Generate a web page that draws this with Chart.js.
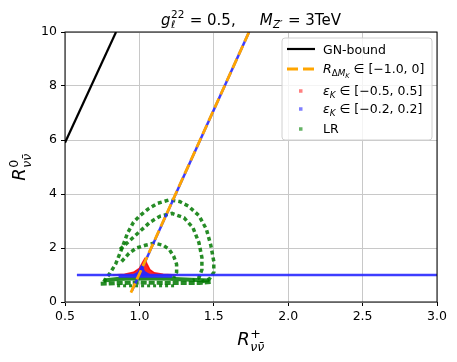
<!DOCTYPE html>
<html>
<head>
<meta charset="utf-8">
<script src="https://cdn.jsdelivr.net/npm/chart.js@4"></script>
<style>
  body { margin: 0; background: #fff; }
  #wrap { width: 457px; height: 362px; }
</style>
</head>
<body>
<div id="wrap"><canvas id="chart" width="457" height="362"></canvas></div>
<script>
// axis ticks
const xTicks = [0.5, 1.0, 1.5, 2.0, 2.5, 3.0];
const yTicks = [0, 2, 4, 6, 8, 10];

// lines
const gnBound = [[0.5, 5.9], [0.843, 10]];
const deltaMK = [[0.943, 0.35], [1.737, 10]];

// eps_K in [-0.2, 0.2] (blue)
const epsNarrowFlat = [[0.58, 1.0], [3.0, 1.0]];
const epsNarrowDiag = [[0.95, 0.42], [1.737, 10]];
const epsNarrowBlob = [[0.96, 1.0], [0.99, 1.1], [1.015, 1.35], [1.035, 1.12], [1.07, 1.0]];
const epsNarrowBand = [[0.86, 0.95], [1.22, 0.95]];

// eps_K in [-0.5, 0.5] (red)
const epsWide = [[0.82, 1.0], [0.9, 1.03], [0.96, 1.1], [1.0, 1.25], [1.02, 1.45], [1.035, 1.6],
                 [1.05, 1.42], [1.07, 1.2], [1.1, 1.08], [1.16, 1.03], [1.25, 1.0]];

// LR (green)
const lrOuter = [[0.76, 0.75], [0.8, 1.05], [0.84, 1.4], [0.88, 1.95], [0.92, 2.55], [0.96, 2.95], [1.0, 3.18],
                 [1.06, 3.45], [1.12, 3.65], [1.2, 3.78], [1.27, 3.72], [1.33, 3.55], [1.4, 3.2], [1.45, 2.7],
                 [1.48, 2.1], [1.5, 1.5], [1.5, 1.1], [1.47, 0.85], [1.42, 0.75]];
const lrMiddle = [[0.87, 1.95], [0.93, 2.25], [1.0, 2.6], [1.07, 2.95], [1.14, 3.18], [1.22, 3.28], [1.3, 3.12],
                  [1.36, 2.75], [1.4, 2.2], [1.42, 1.65], [1.42, 1.2], [1.4, 0.9], [1.36, 0.8]];
const lrInner = [[0.88, 1.5], [0.93, 1.8], [0.98, 2.0], [1.04, 2.1], [1.1, 2.18], [1.16, 2.1], [1.2, 1.95],
                 [1.23, 1.7], [1.25, 1.4], [1.25, 1.1], [1.23, 0.9]];
const lrBandUpper = [[0.76, 0.8], [0.85, 0.85], [1.0, 0.88], [1.2, 0.86], [1.35, 0.82], [1.47, 0.8]];
const lrBandLower = [[0.74, 0.68], [0.85, 0.7], [1.0, 0.72], [1.2, 0.7], [1.4, 0.7], [1.48, 0.74]];
const lrBandDots = [[0.85, 0.6], [1.25, 0.6]];

const FONT = "'DejaVu Sans'";
const pts = arr => arr.map(p => ({ x: p[0], y: p[1] }));

function line(data, color, width, order, extra) {
    return Object.assign({
        data: pts(data),
        showLine: true,
        pointRadius: 0,
        borderColor: color,
        backgroundColor: color,
        borderWidth: width,
        fill: false,
        order: order
    }, extra || {});
}

const green = 'rgba(0,120,0,0.85)';
const red = 'rgba(255,0,0,0.85)';
const blue = 'rgba(40,40,255,0.9)';

const datasets = [
    line(lrOuter, green, 3.5, 10, { borderDash: [4, 3] }),
    line(lrMiddle, green, 3.5, 10, { borderDash: [4, 3] }),
    line(lrInner, green, 3.5, 10, { borderDash: [4, 3] }),
    line(lrBandUpper, green, 4, 10),
    line(lrBandLower, green, 4, 10, { borderDash: [6, 2] }),
    line(lrBandDots, green, 3, 10, { borderDash: [3, 3] }),
    line(epsWide, red, 1.5, 8, { fill: { value: 1 } }),
    line(epsNarrowFlat, blue, 2.5, 6),
    line(epsNarrowDiag, blue, 2.5, 6),
    line(epsNarrowBand, blue, 3, 6),
    line(epsNarrowBlob, blue, 1.5, 6, { fill: { value: 1 } }),
    line(deltaMK, '#ffa500', 2.8, 4, { borderDash: [10, 4.5] }),
    line(gnBound, '#000000', 2.2, 2)
];

// text with sub/superscripts
function drawRich(ctx, parts, x, y, align, size) {
    const font = (p) => (p.it ? 'oblique ' : '') + (p.s || size) + 'px ' + FONT;
    const widths = parts.map(p => {
        if (p.gap) return p.gap;
        if (p.sup !== undefined || p.sub !== undefined) {
            let w = 0;
            ctx.font = font({ it: p.supIt, s: p.ss });
            if (p.sup) w = Math.max(w, ctx.measureText(p.sup).width);
            ctx.font = font({ it: p.subIt, s: p.ss });
            if (p.sub) w = Math.max(w, ctx.measureText(p.sub).width);
            return w + 1;
        }
        ctx.font = font(p);
        return ctx.measureText(p.t).width;
    });
    const total = widths.reduce((a, b) => a + b, 0);
    let cx = align === 'center' ? x - total / 2 : x;
    ctx.textAlign = 'left';
    ctx.textBaseline = 'alphabetic';
    parts.forEach((p, i) => {
        if (p.gap) { cx += p.gap; return; }
        if (p.sup !== undefined || p.sub !== undefined) {
            if (p.sup) { ctx.font = font({ it: p.supIt, s: p.ss }); ctx.fillText(p.sup, cx + 0.5, y + p.supDy); }
            if (p.sub) { ctx.font = font({ it: p.subIt, s: p.ss }); ctx.fillText(p.sub, cx + 0.5, y + p.subDy); }
        } else {
            ctx.font = font(p);
            ctx.fillText(p.t, cx, y + (p.dy || 0));
        }
        cx += widths[i];
    });
}

const decorPlugin = {
    id: 'decor',
    afterDraw(chart) {
        const ctx = chart.ctx;
        const a = chart.chartArea;
        ctx.save();
        ctx.fillStyle = '#000';

        // spines
        ctx.strokeStyle = '#000';
        ctx.lineWidth = 1;
        ctx.strokeRect(a.left, a.top, a.right - a.left, a.bottom - a.top);

        // title
        drawRich(ctx, [
            { t: 'g', it: true },
            { sup: '22', sub: 'ℓ', ss: 10.5, supIt: false, subIt: true, supDy: -7, subDy: 3 },
            { t: ' = 0.5,' },
            { gap: 24 },
            { t: 'M', it: true },
            { sup: '', sub: 'Z′', ss: 10.5, subIt: true, subDy: 3 },
            { t: ' = 3TeV' }
        ], (a.left + a.right) / 2, 25, 'center', 15);

        // x label
        drawRich(ctx, [
            { t: 'R', it: true },
            { sup: '+', sub: 'νν̄', ss: 12.6, supIt: false, subIt: true, supDy: -7.5, subDy: 6 }
        ], (a.left + a.right) / 2, 345, 'center', 18);

        // y label
        ctx.save();
        ctx.translate(25, (a.top + a.bottom) / 2);
        ctx.rotate(-Math.PI / 2);
        drawRich(ctx, [
            { t: 'R', it: true },
            { sup: '0', sub: 'νν̄', ss: 12.6, supIt: false, subIt: true, supDy: -7.5, subDy: 6 }
        ], 0, 0, 'center', 18);
        ctx.restore();

        // legend
        const lx = 282, ly = 38, lw = 150, lh = 102;
        ctx.beginPath();
        ctx.roundRect(lx, ly, lw, lh, 3);
        ctx.fillStyle = 'rgba(255,255,255,0.8)';
        ctx.fill();
        ctx.strokeStyle = '#d0d0d0';
        ctx.lineWidth = 1;
        ctx.stroke();

        const hx0 = 287, hx1 = 315, tx = 323;
        ctx.lineWidth = 2.2;
        ctx.strokeStyle = '#000';
        ctx.beginPath(); ctx.moveTo(hx0, 49); ctx.lineTo(hx1, 49); ctx.stroke();
        ctx.lineWidth = 2.8;
        ctx.strokeStyle = '#ffa500';
        ctx.setLineDash([11, 5]);
        ctx.beginPath(); ctx.moveTo(hx0, 69); ctx.lineTo(hx1, 69); ctx.stroke();
        ctx.setLineDash([]);
        const markers = [['rgba(255,0,0,0.5)', 91], ['rgba(0,0,255,0.5)', 109], ['rgba(0,128,0,0.6)', 129]];
        markers.forEach(m => { ctx.fillStyle = m[0]; ctx.fillRect(299, m[1] - 1.75, 3.5, 3.5); });

        ctx.fillStyle = '#000';
        drawRich(ctx, [{ t: 'GN-bound' }], tx, 54, 'left', 12.5);
        drawRich(ctx, [
            { t: 'R', it: true },
            { t: 'Δ', s: 8.8, dy: 3 },
            { t: 'M', it: true, s: 8.8, dy: 3 },
            { t: 'K', it: true, s: 6.5, dy: 5 },
            { t: ' ∈ [−1.0, 0]' }
        ], tx, 73.3, 'left', 12.5);
        drawRich(ctx, [
            { t: 'ε', it: true },
            { t: 'K', it: true, s: 8.8, dy: 3 },
            { t: ' ∈ [−0.5, 0.5]' }
        ], tx, 95, 'left', 12.5);
        drawRich(ctx, [
            { t: 'ε', it: true },
            { t: 'K', it: true, s: 8.8, dy: 3 },
            { t: ' ∈ [−0.2, 0.2]' }
        ], tx, 113.3, 'left', 12.5);
        drawRich(ctx, [{ t: 'LR' }], tx, 133.3, 'left', 12.5);
        ctx.restore();
    }
};

const axisCommon = {
    type: 'linear',
    grid: { color: '#c8c8c8', lineWidth: 1, tickColor: '#000', tickLength: 4, tickWidth: 1 },
    border: { display: false },
    ticks: { color: '#000', font: { family: 'DejaVu Sans', size: 12.5 } }
};

new Chart(document.getElementById('chart').getContext('2d'), {
    type: 'scatter',
    data: { datasets: datasets },
    options: {
        responsive: false,
        animation: false,
        devicePixelRatio: 1,
        layout: { padding: { top: 32, right: 20, left: 0, bottom: 0 } },
        plugins: { legend: { display: false }, tooltip: { enabled: false } },
        scales: {
            x: Object.assign({}, axisCommon, {
                min: 0.5, max: 3.0,
                ticks: Object.assign({}, axisCommon.ticks, { padding: 3, maxRotation: 0, callback: v => v.toFixed(1) }),
                afterBuildTicks: s => { s.ticks = xTicks.map(v => ({ value: v })); },
                afterFit: s => { s.height = 60; }
            }),
            y: Object.assign({}, axisCommon, {
                min: 0, max: 10,
                ticks: Object.assign({}, axisCommon.ticks, { padding: 4 }),
                afterBuildTicks: s => { s.ticks = yTicks.map(v => ({ value: v })); },
                afterFit: s => { s.width = 65; }
            })
        }
    },
    plugins: [decorPlugin]
});
</script>
</body>
</html>
